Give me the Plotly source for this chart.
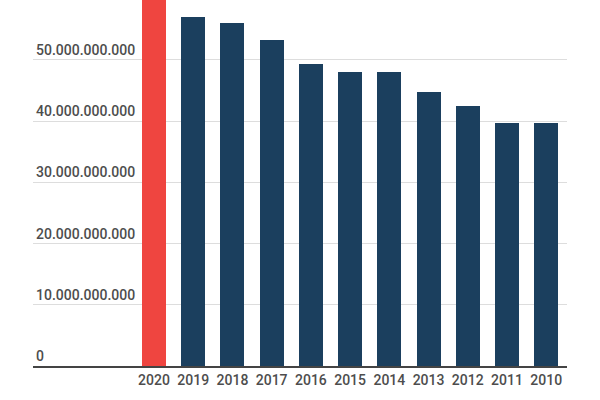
import plotly.graph_objects as go

years = ["2020", "2019", "2018", "2017", "2016", "2015", "2014", "2013", "2012", "2011", "2010"]
values = [65.0e9, 57.0e9, 56.0e9, 53.2e9, 49.3e9, 48.1e9, 48.1e9, 44.7e9, 42.4e9, 39.7e9, 39.7e9]
colors = ["#EF4540"] + ["#1B3F5E"] * 10
ytick_vals = [0, 10e9, 20e9, 30e9, 40e9, 50e9]

xpos = list(range(len(years)))

fig = go.Figure(
    go.Bar(
        x=xpos,
        y=values,
        marker=dict(color=colors, line=dict(width=0)),
        width=0.612,
        hoverinfo="skip",
    )
)

fig.update_layout(
    width=600,
    height=400,
    margin=dict(l=33, r=33, t=0, b=34, pad=0),
    plot_bgcolor="white",
    paper_bgcolor="white",
    separators=",.",
    showlegend=False,
    font=dict(family="Roboto", size=14, color="#4D4D4D", weight=500),
    bargap=0,
)

fig.update_xaxes(
    range=[-3.085, 10.53],
    tickmode="array",
    tickvals=xpos,
    ticktext=years,
    showgrid=False,
    showline=True,
    linecolor="#444444",
    linewidth=2,
    ticks="",
    zeroline=False,
    tickfont=dict(family="Roboto", size=14, color="#4D4D4D", weight=500),
    fixedrange=True,
)

fig.update_yaxes(
    range=[0, 59.8e9],
    tickmode="array",
    tickvals=ytick_vals,
    tickformat=",d",
    ticklabelposition="inside top",
    showgrid=True,
    gridcolor="#DDDDDD",
    gridwidth=1,
    zeroline=False,
    showline=False,
    ticks="",
    tickfont=dict(family="Roboto", size=14, color="#4D4D4D", weight=500),
    fixedrange=True,
)

fig.write_html(
    "out.html",
    config={"displayModeBar": False},
    post_script="document.body.style.margin='0';document.body.style.padding='0';",
)
